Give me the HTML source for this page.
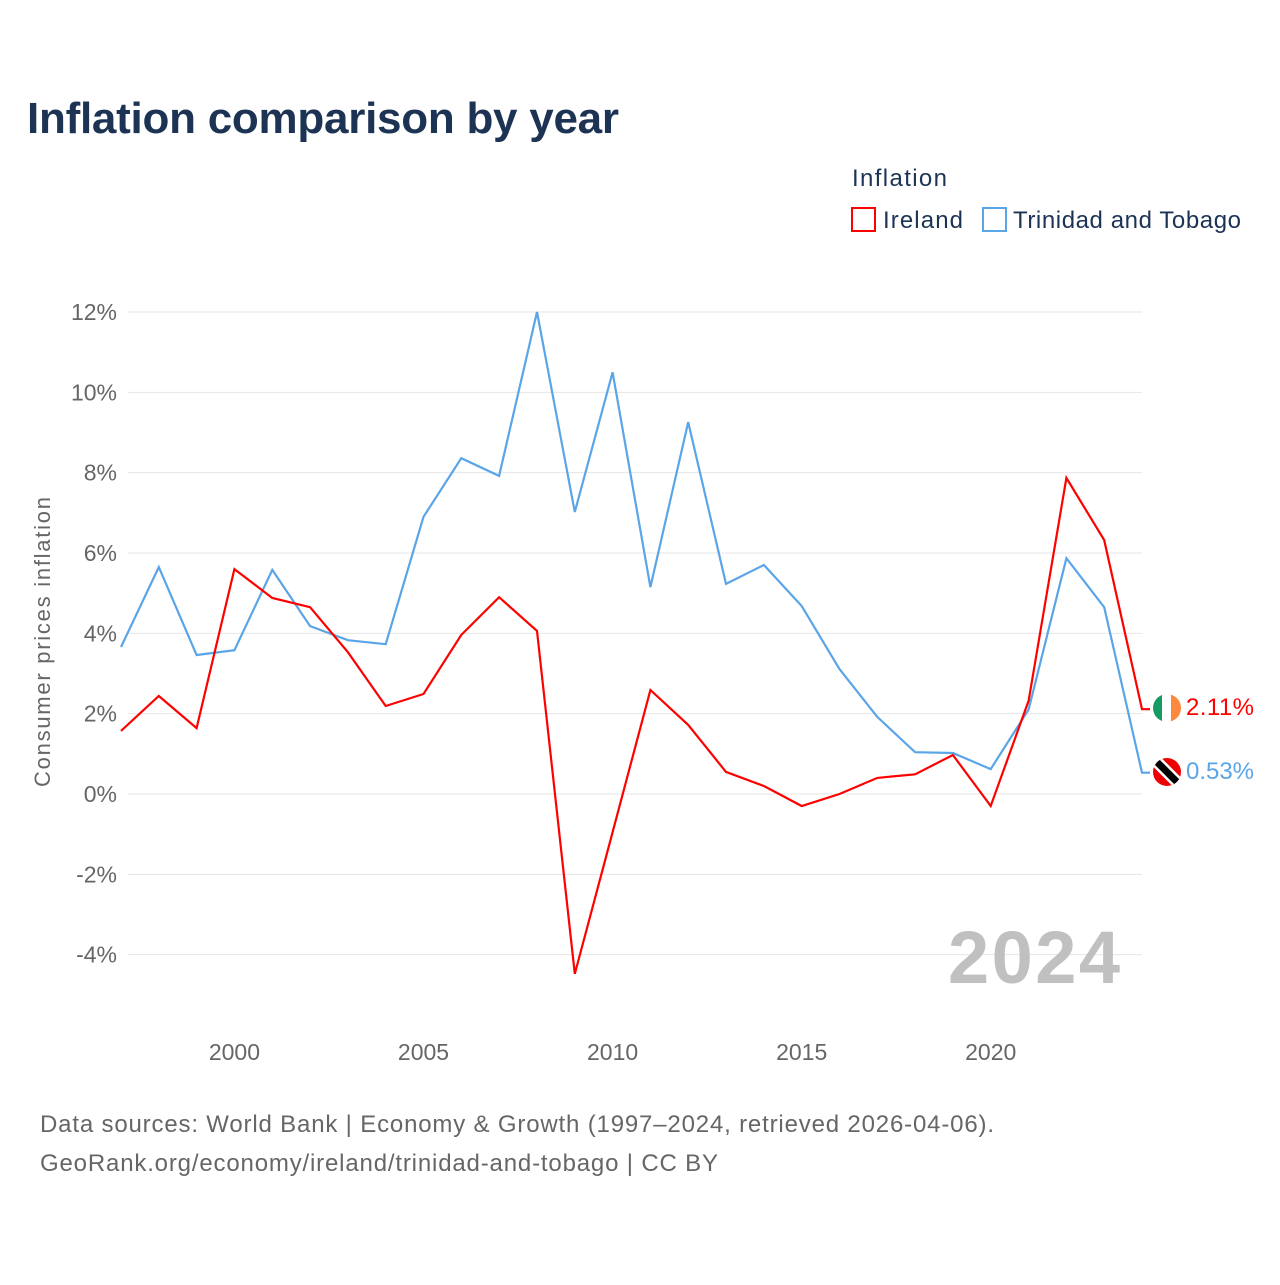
<!DOCTYPE html>
<html><head><meta charset="utf-8"><style>
body{margin:0;background:#fff;font-family:"Liberation Sans",sans-serif}
svg text{font-family:"Liberation Sans",sans-serif}
</style></head><body>
<svg id="chart" width="1280" height="1280" viewBox="0 0 1280 1280">
<text x="27" y="133" font-size="44" font-weight="bold" fill="#1c3354" textLength="592">Inflation comparison by year</text>
<text x="852" y="186" font-size="24" fill="#1c3354" textLength="95">Inflation</text>
<g><rect x="852" y="208" width="23" height="23" fill="none" stroke="#ff0000" stroke-width="2"/><text x="883" y="228" font-size="24" fill="#1c3354" textLength="80">Ireland</text></g>
<g><rect x="983" y="208" width="23" height="23" fill="none" stroke="#5aa5e8" stroke-width="2"/><text x="1013" y="228" font-size="24" fill="#1c3354" textLength="228">Trinidad and Tobago</text></g>
<g id="grid"></g><g id="xticks"></g>
<text transform="translate(50,642) rotate(-90)" text-anchor="middle" font-size="22" fill="#666" textLength="290">Consumer prices inflation</text>
<text x="1120" y="983" text-anchor="end" font-size="74" font-weight="bold" fill="#c0c0c0" textLength="172">2024</text>
<g id="series"></g>
<g><clipPath id="c1"><circle cx="1167" cy="708" r="14"/></clipPath><g clip-path="url(#c1)"><rect x="1153" y="694" width="10" height="28" fill="#169b62"/><rect x="1162" y="694" width="10" height="28" fill="#fff"/><rect x="1171" y="694" width="10" height="28" fill="#ff883e"/></g></g>
<g><clipPath id="c2"><circle cx="1167" cy="772" r="14"/></clipPath><g clip-path="url(#c2)"><rect x="1153" y="758" width="28" height="28" fill="#e00"/><line x1="1153" y1="758" x2="1181" y2="786" stroke="#fff" stroke-width="12"/><line x1="1153" y1="758" x2="1181" y2="786" stroke="#000" stroke-width="7"/></g></g>
<text x="1186" y="715" font-size="24" fill="#ff0000" textLength="68">2.11%</text>
<text x="1186" y="779" font-size="24" fill="#5aa5e8" textLength="68">0.53%</text>
<text x="40" y="1132" font-size="24" fill="#666" textLength="954">Data sources: World Bank | Economy &amp; Growth (1997–2024, retrieved 2026-04-06).</text>
<text x="40" y="1171" font-size="24" fill="#666" textLength="678">GeoRank.org/economy/ireland/trinidad-and-tobago | CC BY</text>
</svg>
<script>
const years=[1997,1998,1999,2000,2001,2002,2003,2004,2005,2006,2007,2008,2009,2010,2011,2012,2013,2014,2015,2016,2017,2018,2019,2020,2021,2022,2023,2024];
const ireland=[1.57,2.44,1.64,5.6,4.88,4.65,3.53,2.19,2.49,3.96,4.9,4.06,-4.48,-0.95,2.59,1.72,0.55,0.2,-0.3,0.0,0.4,0.49,0.97,-0.3,2.32,7.87,6.32,2.11];
const trinidad=[3.66,5.65,3.46,3.58,5.58,4.18,3.83,3.73,6.9,8.36,7.92,12.0,7.02,10.5,5.15,9.26,5.23,5.7,4.68,3.11,1.92,1.04,1.02,0.62,2.1,5.87,4.65,0.53];
const yTicks=[-4,-2,0,2,4,6,8,10,12];
const xTicks=[2000,2005,2010,2015,2020];
const NS="http://www.w3.org/2000/svg";
const X=y=>121+(y-1997)*(1142-121)/27;
const Y=v=>794-v*(794-312)/12;
const grid=document.getElementById('grid');
yTicks.forEach(t=>{
 const l=document.createElementNS(NS,'line');
 l.setAttribute('x1',128);l.setAttribute('x2',1142);l.setAttribute('y1',Y(t));l.setAttribute('y2',Y(t));
 l.setAttribute('stroke','#e6e6e6');
 
 
 grid.appendChild(l);
 const tx=document.createElementNS(NS,'text');
 tx.setAttribute('x',117);tx.setAttribute('y',Y(t)+8);tx.setAttribute('text-anchor','end');
 tx.setAttribute('font-size','23');tx.setAttribute('fill','#666');tx.textContent=t+'%';
 
 
 grid.appendChild(tx);
});
const xt=document.getElementById('xticks');
xTicks.forEach(t=>{
 const tx=document.createElementNS(NS,'text');
 tx.setAttribute('x',X(t));tx.setAttribute('y',1060);tx.setAttribute('text-anchor','middle');
 tx.setAttribute('font-size','23');tx.setAttribute('fill','#666');tx.textContent=t;
 
 
 xt.appendChild(tx);
});
const ser=document.getElementById('series');
function draw(vals,color,name){
 let d=vals.map((v,i)=>(i?'L':'M')+X(years[i]).toFixed(1)+','+Y(v).toFixed(1)).join(' ');
 d+=' L'+(X(years[years.length-1])+8)+','+Y(vals[vals.length-1]).toFixed(1);
 const p=document.createElementNS(NS,'path');
 p.setAttribute('d',d);p.setAttribute('fill','none');p.setAttribute('stroke',color);p.setAttribute('stroke-width','2.2');
 
 
 ser.appendChild(p);
}
draw(trinidad,'#5aa5e8','trinidad-line');
draw(ireland,'#ff0000','ireland-line');
</script>
</body></html>
